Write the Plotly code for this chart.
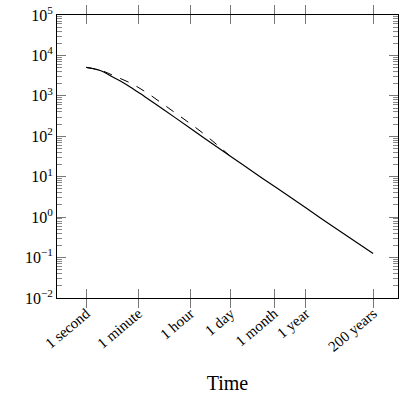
import plotly.graph_objects as go

# log10(time in seconds) and log10(value)
solid_logt = [0, 0.25, 0.5, 0.75, 1.0, 1.25, 1.5, 1.75, 2.0, 2.5, 3.0, 4.0, 5.0, 6.0, 7.0, 8.0, 9.0, 9.8]
solid_logy = [3.705, 3.67, 3.62, 3.53, 3.43, 3.33, 3.22, 3.10, 2.98, 2.73, 2.48, 1.97, 1.47, 0.97, 0.48, -0.02, -0.51, -0.90]

dashed_logt = [0, 0.5, 0.75, 1.0, 1.5, 2.0, 2.5, 3.0, 3.5, 4.0, 4.5, 4.9]
dashed_logy = [3.705, 3.63, 3.56, 3.48, 3.32, 3.11, 2.86, 2.60, 2.34, 2.07, 1.77, 1.52]

tick_seconds = [1, 60, 3600, 86400, 2592000, 31557600, 6.3115e9]
tick_labels = ["1 second", "1 minute", "1 hour", "1 day", "1 month", "1 year", "200 years"]

y_tickvals = [1e-2, 1e-1, 1e0, 1e1, 1e2, 1e3, 1e4, 1e5]
y_ticktext = ["10<sup>−2</sup>", "10<sup>−1</sup>", "10<sup>0</sup>", "10<sup>1</sup>",
              "10<sup>2</sup>", "10<sup>3</sup>", "10<sup>4</sup>", "10<sup>5</sup>"]
decades = [-2, -1, 0, 1, 2, 3, 4]
digits = [2, 3, 4, 5, 6, 7, 8, 9]
y_minor = [d * 10 ** k for k in decades for d in digits]

fig = go.Figure()
fig.add_trace(go.Scatter(
    x=[10 ** v for v in dashed_logt], y=[10 ** v for v in dashed_logy],
    mode="lines", line=dict(color="black", width=1, dash="dash", shape="spline"),
    showlegend=False))
fig.add_trace(go.Scatter(
    x=[10 ** v for v in solid_logt], y=[10 ** v for v in solid_logy],
    mode="lines", line=dict(color="black", width=1.2, shape="spline"),
    showlegend=False))
# invisible trace so the minor-tick axis is drawn
fig.add_trace(go.Scatter(x=[10], y=[10], yaxis="y2", mode="markers",
                         marker=dict(opacity=0), showlegend=False, hoverinfo="skip"))

font = "Liberation Serif"
fig.update_layout(
    width=400, height=407,
    margin=dict(l=57, r=2, t=15, b=109),
    paper_bgcolor="white", plot_bgcolor="white",
    font=dict(family=font, color="black", size=15),
    xaxis=dict(
        type="log", range=[-1, 10.65],
        tickmode="array", tickvals=tick_seconds, ticktext=tick_labels, tickangle=-40,
        ticks="inside", ticklen=9, tickcolor="#777", tickwidth=1,
        showline=True, linecolor="black", linewidth=1, mirror="allticks",
        showgrid=False, zeroline=False,
        tickfont=dict(family=font, size=15),
        title=dict(text="Time", font=dict(family=font, size=20), standoff=22),
    ),
    yaxis=dict(
        type="log", range=[-2, 5],
        tickmode="array", tickvals=y_tickvals, ticktext=y_ticktext,
        ticks="inside", ticklen=9, tickcolor="#777", tickwidth=1,
        showline=True, linecolor="black", linewidth=1, mirror="allticks",
        showgrid=False, zeroline=False,
        tickfont=dict(family=font, size=16),
    ),
    yaxis2=dict(
        type="log", range=[-2, 5], overlaying="y", side="left", anchor="x",
        tickmode="array", tickvals=y_minor, ticktext=[""] * len(y_minor),
        ticks="inside", ticklen=5, tickcolor="#888", tickwidth=1,
        showline=True, linecolor="black", linewidth=1, mirror="allticks",
        showgrid=False, zeroline=False,
    ),
)
fig.write_html("out.html")
